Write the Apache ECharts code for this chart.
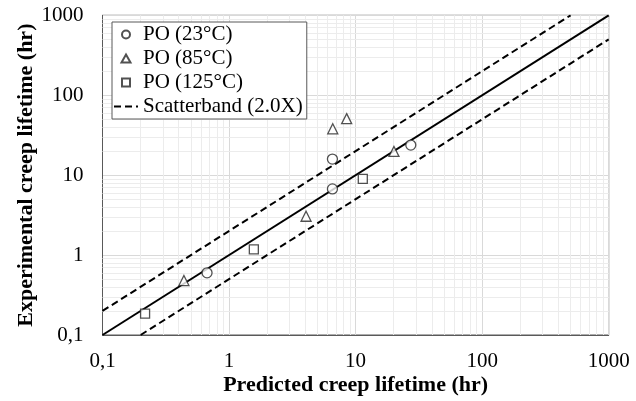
<!DOCTYPE html>
<html>
<head>
<meta charset="utf-8">
<script src="https://cdn.jsdelivr.net/npm/echarts@6/dist/echarts.min.js"></script>
<style>
html,body{margin:0;padding:0;background:#fff;}
#chart{width:636px;height:401px;}
</style>
</head>
<body>
<div id="chart"></div>
<script>
// ---- data ----
var seriesNames = ['PO (23°C)', 'PO (85°C)', 'PO (125°C)', 'Scatterband (2.0X)'];
// [predicted, experimental]
var po23 = [[0.67, 0.60], [6.56, 6.73], [6.56, 15.9], [27.3, 23.8]];
var po85 = [[0.44, 0.48], [4.06, 3.06], [6.6, 38.0], [8.5, 51.0], [20.1, 19.8]];
var po125 = [[0.217, 0.185], [1.57, 1.18], [11.4, 9.0]];
var oneToOne = [[0.1, 0.1], [1000, 1000]];
var upperBand = [[0.1, 0.2], [500, 1000]];
var lowerBand = [[0.2, 0.1], [1000, 500]];
var tickValues = [0.1, 1, 10, 100, 1000];
var tickLabels = ['0,1', '1', '10', '100', '1000'];
var minorValues = [0.2,0.3,0.4,0.5,0.6,0.7,0.8,0.9,2,3,4,5,6,7,8,9,20,30,40,50,60,70,80,90,200,300,400,500,600,700,800,900];
var xTitle = 'Predicted creep lifetime (hr)';
var yTitle = 'Experimental creep lifetime (hr)';

function fmt(v) {
  var k = Math.round(Math.log10(v)) + 1;
  return tickLabels[k] !== undefined ? tickLabels[k] : String(v);
}

var serif = 'Liberation Serif';
var markerStyle = { color: '#ffffff', borderColor: '#262626', borderWidth: 1.3 };

// legend icon shapes (corner anchors keep the 24x9 icon box so shapes are not stretched)
var anchors = 'M0,0 L0.01,0 M24,9 L23.99,9 ';
var legendIcons = [
  'path://' + anchors + 'M8,4.5 A4,4 0 1,1 16,4.5 A4,4 0 1,1 8,4.5 Z',
  'path://' + anchors + 'M12,0.5 L16.5,8.5 L7.5,8.5 Z',
  'path://' + anchors + 'M8,0.5 L16,0.5 L16,8.5 L8,8.5 Z'
];

var minorLines = [];
minorValues.forEach(function (v) {
  minorLines.push({ xAxis: v });
  minorLines.push({ yAxis: v });
});

var chart = echarts.init(document.getElementById('chart'), null, { renderer: 'canvas' });
chart.setOption({
  animation: false,
  backgroundColor: '#ffffff',
  grid: {
    left: 102.5, right: 27.3, top: 15.3, bottom: 65.3,
    show: true, borderColor: '#595959', borderWidth: 1, backgroundColor: 'transparent'
  },
  legend: {
    data: [
      { name: seriesNames[0], icon: legendIcons[0] },
      { name: seriesNames[1], icon: legendIcons[1] },
      { name: seriesNames[2], icon: legendIcons[2] },
      { name: seriesNames[3] }
    ],
    orient: 'vertical',
    left: 112, top: 22, z: 20,
    padding: [2, 4, 2, 1],
    itemGap: 3,
    itemWidth: 24, itemHeight: 9,
    symbolKeepAspect: true,
    backgroundColor: '#ffffff',
    borderColor: '#595959', borderWidth: 1,
    textStyle: { fontFamily: serif, fontSize: 21, color: '#000', lineHeight: 20 }
  },
  xAxis: {
    type: 'log', logBase: 10, min: 0.1, max: 1000,
    name: xTitle, nameLocation: 'middle', nameGap: 39, nameMoveOverlap: false,
    nameTextStyle: { fontFamily: serif, fontSize: 22, fontWeight: 'bold', color: '#000' },
    axisLine: { show: true, lineStyle: { color: '#595959', width: 1 } },
    axisTick: { show: false },
    axisLabel: { fontFamily: serif, fontSize: 21, color: '#000', margin: 16, formatter: fmt },
    splitLine: { show: true, lineStyle: { color: '#d9d9d9', width: 1 } }
  },
  yAxis: {
    type: 'log', logBase: 10, min: 0.1, max: 1000,
    name: yTitle, nameLocation: 'middle', nameGap: 65, nameMoveOverlap: false,
    nameTextStyle: { fontFamily: serif, fontSize: 22, fontWeight: 'bold', color: '#000' },
    axisLine: { show: true, lineStyle: { color: '#595959', width: 1 } },
    axisTick: { show: false },
    axisLabel: { fontFamily: serif, fontSize: 21, color: '#000', margin: 19, formatter: fmt },
    splitLine: { show: true, lineStyle: { color: '#d9d9d9', width: 1 } }
  },
  series: [
    {
      name: 'minor', type: 'line', data: [[0.1, 0.1]], symbol: 'none', silent: true, z: 1,
      lineStyle: { opacity: 0 },
      markLine: {
        silent: true, symbol: ['none', 'none'], label: { show: false }, z: 1,
        lineStyle: { color: '#ececec', width: 1, type: 'solid' },
        data: minorLines, animation: false
      }
    },
    {
      name: '1:1', type: 'line', data: oneToOne, symbol: 'none', z: 3,
      lineStyle: { color: '#000', width: 2 }
    },
    {
      name: seriesNames[3], type: 'line', data: upperBand, symbol: 'none', z: 3,
      itemStyle: { color: 'rgba(0,0,0,0)', borderWidth: 0 },
      lineStyle: { color: '#000', width: 2, type: [7, 4] }
    },
    {
      name: seriesNames[3], type: 'line', data: lowerBand, symbol: 'none', z: 3,
      itemStyle: { color: 'rgba(0,0,0,0)', borderWidth: 0 },
      lineStyle: { color: '#000', width: 2, type: [7, 4] }
    },
    {
      name: seriesNames[0], type: 'scatter', data: po23, symbol: 'circle', symbolSize: 10, z: 4,
      itemStyle: markerStyle
    },
    {
      name: seriesNames[1], type: 'scatter', data: po85, symbol: 'triangle', symbolSize: 10, z: 4,
      itemStyle: markerStyle
    },
    {
      name: seriesNames[2], type: 'scatter', data: po125, symbol: 'rect', symbolSize: 9, z: 4,
      itemStyle: markerStyle
    }
  ]
});
</script>
</body>
</html>
